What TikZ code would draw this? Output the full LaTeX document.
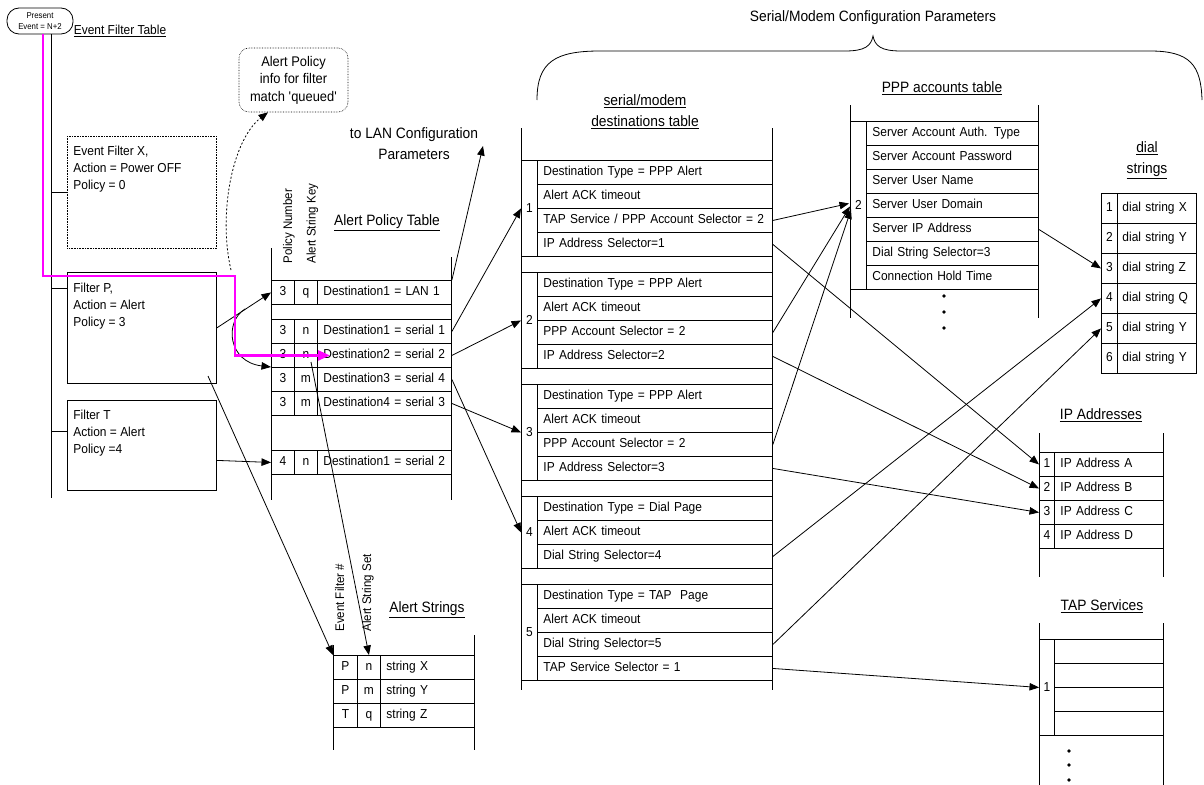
\documentclass[tikz,border=0pt]{standalone}
\usepackage{fontspec}
\setmainfont{Liberation Sans}[FakeStretch=0.92]
\usetikzlibrary{arrows.meta,calc}
\definecolor{mag}{RGB}{255,0,255}
\begin{document}
\begin{tikzpicture}[x=1pt,y=-1pt,line width=0.8pt,
 every node/.style={font=\fontsize{13}{17}\selectfont},
 tline/.style={line width=0.9pt},
 cell/.style={draw,tline,anchor=north west,inner sep=0pt,minimum height=24pt,minimum width=#1,text height=9.5pt,text depth=2.5pt},
 row/.style={draw,tline,anchor=north west,inner xsep=6pt,inner ysep=0pt,minimum height=24pt,text width=#1,align=left,text height=9.5pt,text depth=2.5pt},
 blk/.style={draw,tline,anchor=north west,inner sep=0pt,minimum width=16pt,minimum height=#1},
 ttl/.style={inner sep=0pt,align=center,font=\fontsize{15}{19}\selectfont},
 hdr/.style={rotate=90,anchor=base west,inner sep=0pt,font=\fontsize{12.5}{15}\selectfont},
 arr/.style={-{Triangle[length=9.5pt,width=7.5pt]}},
 fbox/.style={draw,anchor=north west,minimum width=149pt,inner sep=0pt},
 ftxt/.style={anchor=north west,align=left,inner sep=0pt},
 dot/.style={circle,fill,inner sep=0pt,minimum size=3.6pt}
]
\useasboundingbox (0,0) rectangle (1204,784);

% ---------- top brace ----------
\node[ttl] (smcp) at (873,18) {Serial/Modem Configuration Parameters};
\draw (537,100) .. controls (537,62) and (555,51) .. (600,51) -- (845,51)
      .. controls (865,51) and (871,46) .. (873,36)
      .. controls (875,46) and (881,51) .. (901,51) -- (1150,51)
      .. controls (1190,51) and (1201,65) .. (1202,100);

% ---------- present event & event filter table ----------
\node[draw,rounded corners=12pt,minimum width=66pt,minimum height=26pt,inner sep=0pt,
      font=\fontsize{8.5}{11}\selectfont,align=center] (pe) at (40,21) {Present\\Event = N+2};
\node[ttl,font=\fontsize{13}{17}\selectfont] (eft) at (120,31) {\underline{Event Filter Table}};
\coordinate (eftop) at (51,34);
\coordinate (efbot) at (51,498);
\draw[tline] (eftop) -- (efbot);

\node[fbox,densely dotted,line width=0.6pt,minimum height=112pt] (fx) at (67,136) {};
\node[ftxt] (fxt) at (73,146) {Event Filter X,\\Action = Power OFF\\Policy = 0};
\draw[tline] (fx.west) -- (fx.west -| efbot);

\node[fbox,minimum height=111pt] (fp) at (67,272) {};
\node[ftxt] (fpt) at (73,283) {Filter P,\\Action = Alert\\Policy = 3};
\draw[tline] ($(fp.north west)+(0,16)$) -- ++(-16,0);

\node[fbox,minimum height=90pt] (ft) at (67,400) {};
\node[ftxt] (ftt) at (73,410) {Filter T\\Action = Alert\\Policy =4};
\draw[tline] ($(ft.north west)+(0,31)$) -- ++(-16,0);

% ---------- alert policy info bubble ----------
\node[draw,densely dotted,line width=0.6pt,rounded corners=10pt,minimum width=109pt,minimum height=64pt,
      align=center,inner sep=0pt,font=\fontsize{14}{17.5}\selectfont] (bub) at (293.5,80)
      {Alert Policy\\info for filter\\match \textquotesingle queued\textquotesingle};
\coordinate (dq) at (231,270);
\draw[dash pattern=on 2pt off 2pt,arr] (dq) .. controls (218,215) and (232,140) .. ($(bub.south)+(-25.5,0)$);

% ---------- LAN text ----------
\node[ttl] (lan) at (414,144) {to LAN Configuration\\[2pt]Parameters};
\coordinate (lanarr) at (483,146);

% ---------- alert policy table ----------
\node[ttl] (apt) at (387,223) {\underline{Alert Policy Table}};
\node[hdr] (hpn) at (292,264) {Policy Number};
\node[hdr] (hask) at (315.5,264) {Alert String Key};
\draw[tline] (271,248) -- (271,500);
\draw[tline] (451,257) -- (451,500);
\node[cell=23pt] (ap1a) at (271,280) {3};
\node[cell=23pt] (ap1b) at (294,280) {q};
\node[row=122pt] (ap1t) at (317,280) {Destination1 = LAN 1};
\node[cell=23pt] (ap2a) at (271,319) {3};
\node[cell=23pt] (ap2b) at (294,319) {n};
\node[row=122pt] (ap2t) at (317,319) {Destination1 = serial 1};
\node[cell=23pt] (ap3a) at (271,343) {3};
\node[cell=23pt] (ap3b) at (294,343) {n};
\node[row=122pt] (ap3t) at (317,343) {Destination2 = serial 2};
\node[cell=23pt] (ap4a) at (271,367) {3};
\node[cell=23pt] (ap4b) at (294,367) {m};
\node[row=122pt] (ap4t) at (317,367) {Destination3 = serial 4};
\node[cell=23pt] (ap5a) at (271,391) {3};
\node[cell=23pt] (ap5b) at (294,391) {m};
\node[row=122pt] (ap5t) at (317,391) {Destination4 = serial 3};
\node[cell=23pt] (ap6a) at (271,450) {4};
\node[cell=23pt] (ap6b) at (294,450) {n};
\node[row=122pt] (ap6t) at (317,450) {Destination1 = serial 2};

% ---------- alert strings ----------
\node[ttl] (ast) at (427,610) {\underline{Alert Strings}};
\node[hdr] (hef) at (344,632) {Event Filter \#};
\node[hdr] (has) at (371,632) {Alert String Set};
\draw[tline] (333,645) -- (333,750);
\draw[tline] (474,635) -- (474,750);
\node[cell=24pt] (as1a) at (333,655) {P};
\node[cell=23pt] (as1b) at (357,655) {n};
\node[row=82pt] (as1t) at (380,655) {string X};
\node[cell=24pt] (as2a) at (333,679) {P};
\node[cell=23pt] (as2b) at (357,679) {m};
\node[row=82pt] (as2t) at (380,679) {string Y};
\node[cell=24pt] (as3a) at (333,703) {T};
\node[cell=23pt] (as3b) at (357,703) {q};
\node[row=82pt] (as3t) at (380,703) {string Z};

% ---------- serial/modem destinations table ----------
\node[ttl] (smt) at (645,112) {\underline{serial/modem}\\[2pt]\underline{destinations table}};
\draw[tline] (521,128) -- (521,690);
\draw[tline] (772,128) -- (772,690);
\node[blk=96pt] (d1) at (521,160) {1};
\node[row=223pt] (d1a) at (537,160) {Destination Type = PPP Alert};
\node[row=223pt] (d1b) at (537,184) {Alert ACK timeout};
\node[row=223pt] (d1c) at (537,208) {TAP Service / PPP Account Selector = 2};
\node[row=223pt] (d1d) at (537,232) {IP Address Selector=1};
\node[blk=96pt] (d2) at (521,272) {2};
\node[row=223pt] (d2a) at (537,272) {Destination Type = PPP Alert};
\node[row=223pt] (d2b) at (537,296) {Alert ACK timeout};
\node[row=223pt] (d2c) at (537,320) {PPP Account Selector = 2};
\node[row=223pt] (d2d) at (537,344) {IP Address Selector=2};
\node[blk=96pt] (d3) at (521,384) {3};
\node[row=223pt] (d3a) at (537,384) {Destination Type = PPP Alert};
\node[row=223pt] (d3b) at (537,408) {Alert ACK timeout};
\node[row=223pt] (d3c) at (537,432) {PPP Account Selector = 2};
\node[row=223pt] (d3d) at (537,456) {IP Address Selector=3};
\node[blk=72pt] (d4) at (521,496) {4};
\node[row=223pt] (d4a) at (537,496) {Destination Type = Dial Page};
\node[row=223pt] (d4b) at (537,520) {Alert ACK timeout};
\node[row=223pt] (d4c) at (537,544) {Dial String Selector=4};
\node[blk=96pt] (d5) at (521,584) {5};
\node[row=223pt] (d5a) at (537,584) {Destination Type = TAP\ \ Page};
\node[row=223pt] (d5b) at (537,608) {Alert ACK timeout};
\node[row=223pt] (d5c) at (537,632) {Dial String Selector=5};
\node[row=223pt] (d5d) at (537,656) {TAP Service Selector = 1};

% ---------- PPP accounts table ----------
\node[ttl] (pppt) at (942,88) {\underline{PPP accounts table}};
\draw[tline] (850,105) -- (850,318);
\draw[tline] (1038,105) -- (1038,318);
\node[blk=168pt] (ppp2) at (850,121) {2};
\node[row=160pt] (ppp1r) at (866,121) {Server Account Auth. Type};
\node[row=160pt] (ppp2r) at (866,145) {Server Account Password};
\node[row=160pt] (ppp3r) at (866,169) {Server User Name};
\node[row=160pt] (ppp4r) at (866,193) {Server User Domain};
\node[row=160pt] (ppp5r) at (866,217) {Server IP Address};
\node[row=160pt] (ppp6r) at (866,241) {Dial String Selector=3};
\node[row=160pt] (ppp7r) at (866,265) {Connection Hold Time};
\node[dot] (pd1) at (944,296) {};
\node[dot] (pd2) at (944,312) {};
\node[dot] (pd3) at (944,328) {};

% ---------- dial strings ----------
\node[ttl] (dst) at (1147,160) {\underline{dial}\\[2pt]\underline{strings}};
\tikzset{dsrow/.style={row=69pt,inner xsep=5pt,minimum height=30pt}}
\node[cell=16pt,minimum height=30pt] (ds1a) at (1101,193) {1};
\node[dsrow] (ds1t) at (1117,193) {\mbox{dial string X}};
\node[cell=16pt,minimum height=30pt] (ds2a) at (1101,223) {2};
\node[dsrow] (ds2t) at (1117,223) {\mbox{dial string Y}};
\node[cell=16pt,minimum height=30pt] (ds3a) at (1101,253) {3};
\node[dsrow] (ds3t) at (1117,253) {\mbox{dial string\hspace{4pt}Z}};
\node[cell=16pt,minimum height=30pt] (ds4a) at (1101,283) {4};
\node[dsrow] (ds4t) at (1117,283) {\mbox{dial string\hspace{4pt}Q}};
\node[cell=16pt,minimum height=30pt] (ds5a) at (1101,313) {5};
\node[dsrow] (ds5t) at (1117,313) {\mbox{dial string Y}};
\node[cell=16pt,minimum height=30pt] (ds6a) at (1101,343) {6};
\node[dsrow] (ds6t) at (1117,343) {\mbox{dial string Y}};

% ---------- IP addresses ----------
\node[ttl] (ipt) at (1101,415) {\underline{IP Addresses}};
\draw[tline] (1039,433) -- (1039,577);
\draw[tline] (1163,433) -- (1163,577);
\node[cell=15pt] (ip1a) at (1039,452) {1};
\node[row=97pt] (ip1t) at (1054,452) {IP Address A};
\node[cell=15pt] (ip2a) at (1039,476) {2};
\node[row=97pt] (ip2t) at (1054,476) {IP Address B};
\node[cell=15pt] (ip3a) at (1039,500) {3};
\node[row=97pt] (ip3t) at (1054,500) {IP Address C};
\node[cell=15pt] (ip4a) at (1039,524) {4};
\node[row=97pt] (ip4t) at (1054,524) {IP Address D};

% ---------- TAP services ----------
\node[ttl] (tapt) at (1102,606) {\underline{TAP Services}};
\draw[tline] (1039,623) -- (1039,790);
\draw[tline] (1163,623) -- (1163,790);
\node[blk=96pt,minimum width=15pt] (tap1) at (1039,639) {1};
\node[row=97pt] (tr1) at (1054,639) {};
\node[row=97pt] (tr2) at (1054,663) {};
\node[row=97pt] (tr3) at (1054,687) {};
\node[row=97pt] (tr4) at (1054,711) {};
\node[dot] (td1) at (1069,751) {};
\node[dot] (td2) at (1069,765) {};
\node[dot] (td3) at (1069,780) {};

% ---------- connectors ----------
\draw[arr] (fp.east) -- (ap1a.west);
\coordinate (jc) at (245,309);
\draw[arr] (jc) .. controls (224,322) and (228,362) .. (ap4a.north west);
\draw[arr] ($(ft.east)+(0,15)$) -- (ap6a.west);
\coordinate (fpa) at (208,376);
\draw[arr] (fpa) -- (as1a.north west);
\coordinate (apk) at (311,362);
\draw[arr] (apk) -- (as1b.north);

\draw[arr] (ap1t.north east) -- (lanarr);
\draw[arr] (ap2t.east) -- (d1.west);
\draw[arr] (ap3t.east) -- (d2.west);
\draw[arr] (ap4t.east) -- (d4.west);
\draw[arr] (ap5t.east) -- (d3.west);

\draw[arr] (d1c.east) -- ($(ppp2.west)+(-1,-2)$);
\draw[arr] (d2c.east) -- ($(ppp2.west)+(0,1)$);
\draw[arr] (d3c.east) -- ($(ppp2.west)+(1,4)$);
\draw[arr] (d1d.east) -- (ip1a.west);
\draw[arr] (d2d.east) -- (ip2a.west);
\draw[arr] (d3d.east) -- (ip3a.west);
\draw[arr] (d4c.east) -- (ds4a.west);
\draw[arr] (d5c.east) -- (ds5a.west);
\draw[arr] (d5d.east) -- (tap1.west);
\draw[arr] (ppp5r.east) -- (ds3a.west);

% ---------- magenta path ----------
\draw[mag,line width=2.5pt,-{Triangle[length=12pt,width=10pt]}]
      ($(pe.south)+(3,0)$) |- (235,276) |- ($(ap3t.west)+(13,0)$);
\end{tikzpicture}
\end{document}
